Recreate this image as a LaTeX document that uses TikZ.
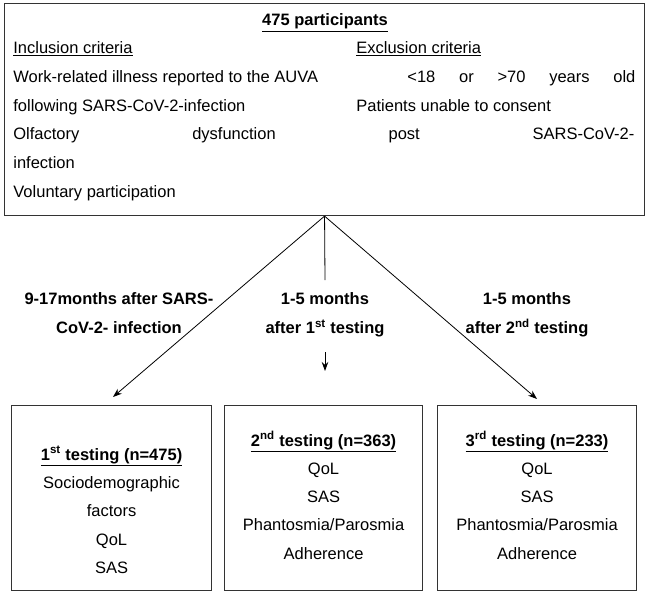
\documentclass[tikz,border=0pt]{standalone}
\usepackage{fontspec}
\setmainfont{Liberation Sans}
\usetikzlibrary{arrows.meta,positioning}

\begin{document}
\begin{tikzpicture}[x=1pt, y=-1pt, >={Stealth[length=9pt,width=6.5pt]}, thick,
  frame/.style={draw=black!80, line width=1.1pt, inner sep=0pt},
  txt/.style={font=\fontsize{16.5}{28}\selectfont, inner sep=0pt, anchor=base west},
  lbl/.style={font=\bfseries\fontsize{16.5}{29}\selectfont, align=center, inner sep=0pt, anchor=north},
  items/.style={font=\fontsize{16.5}{28.3}\selectfont, align=center, inner sep=0pt}]
\useasboundingbox (0,0) rectangle (648,594);

\node[frame, minimum width=640pt, minimum height=212pt, anchor=north west] (cohort) at (4,3) {};
\node[txt, anchor=base, font=\bfseries\fontsize{16.5}{28}\selectfont] (total) at (325,26) {\underline{475 participants}};
\node[txt] (incl) at (13,54) {\underline{Inclusion criteria}};
\node[txt] (excl) at (356,54) {\underline{Exclusion criteria}};
\node[txt] (inc1) at (13,83) {Work-related illness reported to the AUVA};
\node[txt] (exc1) at (407,83) {\makebox[228pt][s]{<18 or >70 years old}};
\node[txt] (inc2) at (13,111) {following SARS-CoV-2-infection};
\node[txt] (exc2) at (356,111) {Patients unable to consent};
\node[txt] (inc3) at (13,139) {\makebox[621pt][s]{Olfactory dysfunction post SARS-CoV-2-}};
\node[txt] (inc4) at (13,168) {infection};
\node[txt] (inc5) at (13,197) {Voluntary participation};

\node[frame, minimum width=200pt, minimum height=185pt, anchor=north west] (test1) at (11,405) {};
\node[frame, minimum width=198pt, minimum height=185pt, anchor=north west] (test2) at (224,405) {};
\node[frame, minimum width=199pt, minimum height=185pt, anchor=north west] (test3) at (437,405) {};

\node[items, below=41pt of test1.north] (list1) {\textbf{\underline{1\textsuperscript{st} testing (n=475)}}\\Sociodemographic\\factors\\QoL\\SAS};
\node[items, below=26pt of test2.north] (list2) {\textbf{\underline{2\textsuperscript{nd} testing (n=363)}}\\QoL\\SAS\\Phantosmia/Parosmia\\Adherence};
\node[items, below=26pt of test3.north] (list3) {\textbf{\underline{3\textsuperscript{rd} testing (n=233)}}\\QoL\\SAS\\Phantosmia/Parosmia\\Adherence};

\node[lbl] (gap1) at (119,292) {9-17months after SARS-\\CoV-2- infection};
\node[lbl] (gap2) at (325,292) {1-5 months\\after 1\textsuperscript{st} testing};
\node[lbl] (gap3) at (527,292) {1-5 months\\after 2\textsuperscript{nd} testing};

\coordinate (tip1) at (113,397);
\coordinate (tip3) at (537,399);
\coordinate (stem) at (325,280);
\coordinate (down1) at (325,352);
\coordinate (down2) at (325,371);
\draw[->] (cohort.south) -- (tip1);
\draw[->] (cohort.south) -- (tip3);
\draw (cohort.south) -- (stem);
\draw[->] (down1) -- (down2);
\end{tikzpicture}
\end{document}
